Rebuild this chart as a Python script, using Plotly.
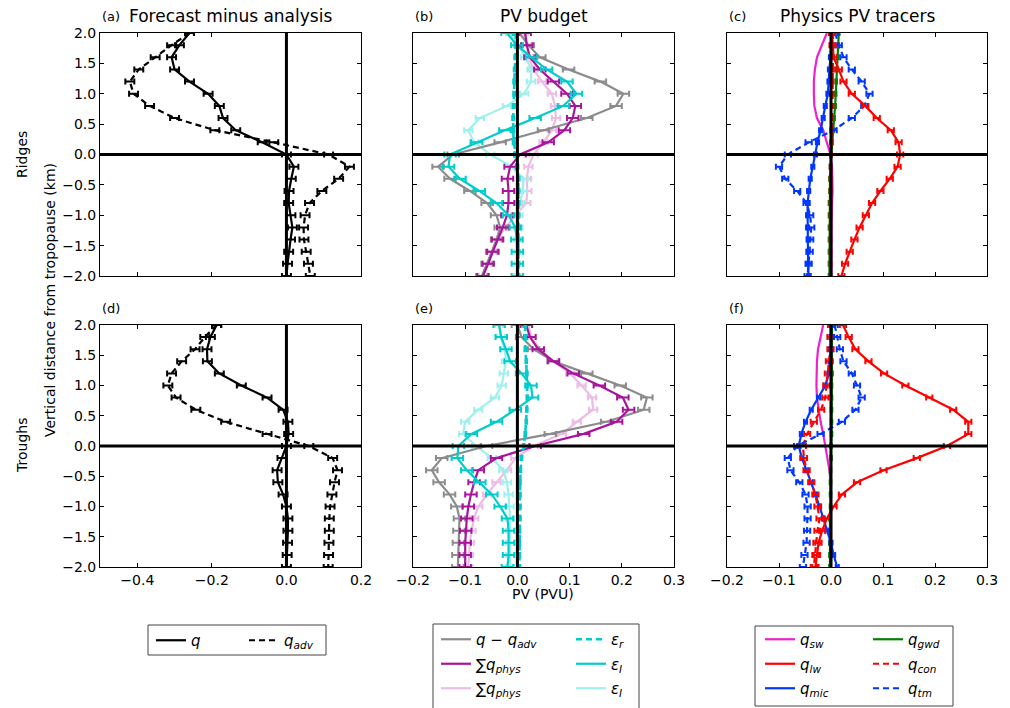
import plotly.graph_objects as go

# ---------------- data ----------------
Z = [2.0, 1.8, 1.6, 1.4, 1.2, 1.0, 0.8, 0.6, 0.4, 0.2, 0.0,
     -0.2, -0.4, -0.6, -0.8, -1.0, -1.2, -1.4, -1.6, -1.8, -2.0]

# (a) ridges, forecast minus analysis
A_Q = [-0.26, -0.287, -0.308, -0.30, -0.26, -0.21, -0.18, -0.17, -0.136, -0.065, 0.0,
       0.02, 0.013, 0.007, 0.006, 0.012, 0.016, 0.011, 0.006, 0.003, 0.0]
A_QADV = [-0.26, -0.308, -0.352, -0.396, -0.42, -0.41, -0.367, -0.30, -0.192, -0.034, 0.113,
          0.169, 0.14, 0.095, 0.062, 0.05, 0.046, 0.047, 0.053, 0.059, 0.064]
# (d) troughs, forecast minus analysis
D_Q = [-0.187, -0.204, -0.213, -0.212, -0.18, -0.121, -0.052, -0.009, 0.004, 0.006, 0.0,
       -0.012, -0.025, -0.023, -0.009, 0.0, 0.004, 0.004, 0.003, 0.002, 0.0]
D_QADV = [-0.187, -0.219, -0.245, -0.281, -0.308, -0.318, -0.296, -0.243, -0.163, -0.052, 0.06,
          0.124, 0.137, 0.129, 0.122, 0.117, 0.115, 0.115, 0.114, 0.113, 0.112]

# (b) ridges, PV budget
B_DIFF = [0.004, 0.021, 0.043, 0.098, 0.159, 0.203, 0.189, 0.133, 0.05, -0.033, -0.123,
          -0.152, -0.129, -0.091, -0.058, -0.04, -0.033, -0.04, -0.049, -0.058, -0.068]
B_PHYS = [0.015, 0.018, 0.024, 0.043, 0.069, 0.095, 0.111, 0.106, 0.09, 0.059, 0.005,
          -0.014, -0.019, -0.017, -0.017, -0.02, -0.028, -0.038, -0.047, -0.056, -0.066]
B_PHYS2 = [0.012, 0.018, 0.021, 0.031, 0.047, 0.066, 0.072, 0.074, 0.066, 0.05, 0.031,
           0.021, 0.018, 0.019, 0.017, -0.004, -0.022, -0.04, -0.049, -0.058, -0.066]
B_EPSR = [-0.003, -0.003, -0.004, -0.005, -0.006, -0.006, -0.007, -0.008, -0.008, -0.007, -0.003,
          0.0, 0.002, 0.002, 0.002, 0.002, 0.002, 0.002, 0.002, 0.002, 0.002]
B_EPSI = [-0.02, -0.001, 0.027, 0.056, 0.095, 0.113, 0.088, 0.034, -0.024, -0.078, -0.129,
          -0.132, -0.11, -0.073, -0.04, -0.017, -0.004, -0.001, 0.0, 0.0, 0.0]
B_EPSI2 = [-0.014, 0.002, 0.015, 0.027, 0.026, 0.013, -0.02, -0.072, -0.094, -0.083, -0.052,
           -0.011, 0.012, 0.01, 0.005, 0.002, 0.002, 0.002, 0.002, 0.002, 0.002]
# (e) troughs, PV budget
E_DIFF = [0.0, 0.008, 0.031, 0.069, 0.133, 0.197, 0.248, 0.242, 0.171, 0.063, -0.059,
          -0.145, -0.164, -0.15, -0.13, -0.116, -0.111, -0.112, -0.113, -0.114, -0.114]
E_PHYS = [0.017, 0.024, 0.04, 0.069, 0.107, 0.157, 0.202, 0.213, 0.19, 0.127, 0.034,
          -0.04, -0.075, -0.083, -0.089, -0.094, -0.097, -0.099, -0.1, -0.1, -0.1]
E_PHYS2 = [0.021, 0.027, 0.043, 0.069, 0.101, 0.123, 0.143, 0.145, 0.114, 0.085, 0.031,
           -0.004, -0.02, -0.04, -0.058, -0.075, -0.083, -0.088, -0.091, -0.093, -0.094]
E_EPSR = [0.015, 0.015, 0.015, 0.017, 0.018, 0.019, 0.019, 0.018, 0.017, 0.015, 0.012,
          0.008, 0.006, 0.005, 0.005, 0.005, 0.005, 0.004, 0.004, 0.004, 0.004]
E_EPSI = [-0.035, -0.031, -0.022, -0.014, 0.008, 0.026, 0.029, -0.004, -0.04, -0.088, -0.113,
          -0.115, -0.097, -0.072, -0.049, -0.033, -0.019, -0.017, -0.017, -0.017, -0.019]
E_EPSI2 = [-0.035, -0.032, -0.024, -0.022, -0.026, -0.03, -0.043, -0.075, -0.1, -0.104, -0.079,
           -0.049, -0.027, -0.02, -0.017, -0.015, -0.014, -0.014, -0.014, -0.014, -0.014]

# (c) ridges, physics PV tracers
C_SW = [-0.008, -0.017, -0.027, -0.031, -0.033, -0.033, -0.032, -0.027, -0.015, -0.008, -0.001,
        0.002, 0.003, 0.003, 0.002, 0.001, 0.001, 0.001, 0.001, 0.001, 0.001]
C_LW = [0.002, 0.003, 0.005, 0.015, 0.024, 0.04, 0.066, 0.088, 0.115, 0.13, 0.133,
        0.128, 0.113, 0.095, 0.079, 0.067, 0.055, 0.045, 0.036, 0.027, 0.02]
C_MIC = [0.002, 0.001, -0.001, -0.003, -0.004, -0.006, -0.011, -0.015, -0.02, -0.026, -0.03,
         -0.035, -0.04, -0.043, -0.045, -0.045, -0.045, -0.044, -0.044, -0.044, -0.043]
C_GWD = [0.015, 0.014, 0.013, 0.012, 0.01, 0.009, 0.008, 0.006, 0.004, 0.002, 0.0,
         -0.001, -0.002, -0.002, -0.003, -0.003, -0.003, -0.003, -0.003, -0.003, -0.003]
C_CON = [0.004, 0.004, 0.004, 0.004, 0.003, 0.003, 0.003, 0.002, 0.001, 0.0, 0.0,
         -0.001, -0.001, -0.001, -0.001, -0.001, -0.001, -0.001, -0.001, -0.001, -0.001]
C_TM = [0.008, 0.015, 0.024, 0.04, 0.059, 0.074, 0.064, 0.04, 0.005, -0.043, -0.083,
        -0.1, -0.088, -0.065, -0.047, -0.04, -0.038, -0.04, -0.041, -0.043, -0.045]
# (f) troughs, physics PV tracers
F_SW = [-0.015, -0.02, -0.025, -0.027, -0.028, -0.028, -0.027, -0.024, -0.02, -0.015, -0.011,
        -0.006, -0.003, -0.001, 0.0, 0.0, 0.0, 0.0, 0.0, 0.0, 0.0]
F_LW = [0.023, 0.034, 0.047, 0.072, 0.102, 0.143, 0.189, 0.235, 0.264, 0.264, 0.223,
        0.165, 0.101, 0.05, 0.021, 0.005, -0.008, -0.017, -0.024, -0.027, -0.03]
F_MIC = [0.0, 0.0, -0.001, -0.002, -0.004, -0.011, -0.024, -0.038, -0.049, -0.057, -0.062,
         -0.056, -0.047, -0.038, -0.03, -0.022, -0.015, -0.008, 0.0, 0.005, 0.012]
F_GWD = [0.002, 0.002, 0.002, 0.002, 0.002, 0.001, 0.001, 0.001, 0.001, 0.001, 0.0,
         0.0, -0.001, -0.001, -0.001, -0.001, -0.002, -0.002, -0.002, -0.002, -0.002]
F_CON = [0.0, -0.001, -0.001, -0.004, -0.006, -0.009, -0.011, -0.019, -0.033, -0.046, -0.054,
         -0.052, -0.047, -0.038, -0.03, -0.026, -0.022, -0.026, -0.028, -0.03, -0.033]
F_TM = [0.007, 0.012, 0.017, 0.024, 0.04, 0.05, 0.059, 0.047, 0.021, -0.02, -0.065,
        -0.083, -0.078, -0.061, -0.049, -0.045, -0.045, -0.046, -0.047, -0.051, -0.054]

# half-widths of the horizontal error bars (PVU)
ERR_FC = 0.012
ERR_BUD = 0.011
ERR_BUD_LIGHT = 0.008
ERR_EPSR_RIDGE = 0.002
ERR_EPSR_TROUGH = 0.0015
ERR_TR = 0.006
ERR_TR_SMALL = 0.003
ERR_NEAR_ZERO = 0.0015

PANEL_TITLES = ["Forecast minus analysis", "PV budget", "Physics PV tracers"]
PANEL_LABELS = ["(a)", "(b)", "(c)", "(d)", "(e)", "(f)"]
FC_TICKS = [-0.4, -0.2, 0.0, 0.2]
PV_TICKS = [-0.2, -0.1, 0.0, 0.1, 0.2, 0.3]
Z_TICKS = [-2.0, -1.5, -1.0, -0.5, 0.0, 0.5, 1.0, 1.5, 2.0]

# ---------------- styling ----------------
W, H = 1010, 708
FONT = "DejaVu Sans"
GRAY = "#8c8c8c"
PURPLE = "#a8149c"
PINK = "#ecbce4"
CYAN = "#00cccc"
LCYAN = "#9ef0ee"
MAGENTA = "#ee22cc"
RED = "#ff0000"
BLUE = "#0036ff"
GREEN = "#008000"
DASH = "6px,4px"


def fx(p):
    return p / W


def fy(p):
    return 1 - p / H


# panel pixel boxes (left, right, top, bottom)
COLS = [(100, 361), (413, 674), (727, 987)]
ROWS = [(33, 276), (325, 567)]

fig = go.Figure()

layout_axes = {}
idx = 0
for r, (top, bot) in enumerate(ROWS):
    for c, (left, right) in enumerate(COLS):
        idx += 1
        sfx = "" if idx == 1 else str(idx)
        common = dict(showline=True, linecolor="black", linewidth=1, mirror="ticks",
                      ticks="inside", ticklen=4, tickcolor="black", tickwidth=1,
                      showgrid=False, zeroline=False, tickformat=".1f",
                      tickfont=dict(family=FONT, size=14, color="black"),
                      automargin=False, fixedrange=True)
        xa = dict(common, domain=[fx(left), fx(right)], anchor="y" + sfx,
                  range=[-0.5, 0.2] if c == 0 else [-0.2, 0.3],
                  tickvals=FC_TICKS if c == 0 else PV_TICKS,
                  showticklabels=(r == 1))
        ya = dict(common, domain=[fy(bot), fy(top)], anchor="x" + sfx,
                  range=[-2.0, 2.0], tickvals=Z_TICKS,
                  showticklabels=(c == 0))
        layout_axes["xaxis" + sfx] = xa
        layout_axes["yaxis" + sfx] = ya


def add(panel, xs, name, color, dash, err, legend, show, width=2.2):
    sfx = "" if panel == 1 else str(panel)
    fig.add_trace(go.Scatter(
        x=xs, y=Z, mode="lines", name=name,
        line=dict(color=color, width=width, dash=dash),
        error_x=dict(type="constant", value=err, color=color, thickness=2, width=3,
                     visible=err > 0),
        xaxis="x" + sfx, yaxis="y" + sfx,
        legend=legend, legendgroup=name + legend, showlegend=show))


Q = "<i>q</i>"
QADV = "<i>q</i><sub><i>adv</i></sub>"
DIFF = "<i>q</i> − <i>q</i><sub><i>adv</i></sub>"
SUMP = "∑<i>q</i><sub><i>phys</i></sub>"
EPSR = "<i>ε</i><sub><i>r</i></sub>"
EPSI = "<i>ε</i><sub><i>I</i></sub>"


def qsub(s):
    return "<i>q</i><sub><i>%s</i></sub>" % s


for row, panel_a in ((0, 1), (1, 4)):
    show = row == 0
    q, qadv = (A_Q, A_QADV) if row == 0 else (D_Q, D_QADV)
    add(panel_a, qadv, QADV, "black", DASH, ERR_FC, "legend2", show)
    add(panel_a, q, Q, "black", "solid", ERR_FC, "legend", show)

for row, panel_b in ((0, 2), (1, 5)):
    show = row == 0
    if row == 0:
        diff, phys, phys2, epsr, epsi, epsi2 = B_DIFF, B_PHYS, B_PHYS2, B_EPSR, B_EPSI, B_EPSI2
        err_r = ERR_EPSR_RIDGE
    else:
        diff, phys, phys2, epsr, epsi, epsi2 = E_DIFF, E_PHYS, E_PHYS2, E_EPSR, E_EPSI, E_EPSI2
        err_r = ERR_EPSR_TROUGH
    add(panel_b, phys2, SUMP + " ", PINK, "solid", ERR_BUD_LIGHT, "legend3", show)
    add(panel_b, epsi2, EPSI + " ", LCYAN, "solid", ERR_BUD_LIGHT, "legend4", show)
    add(panel_b, diff, DIFF, GRAY, "solid", ERR_BUD, "legend3", show)
    add(panel_b, phys, SUMP, PURPLE, "solid", ERR_BUD, "legend3", show)
    add(panel_b, epsr, EPSR, CYAN, DASH, err_r, "legend4", show, width=2.6)
    add(panel_b, epsi, EPSI, CYAN, "solid", ERR_BUD, "legend4", show)

for row, panel_c in ((0, 3), (1, 6)):
    show = row == 0
    if row == 0:
        sw, lw, mic, gwd, con, tm = C_SW, C_LW, C_MIC, C_GWD, C_CON, C_TM
        err_con = ERR_NEAR_ZERO
    else:
        sw, lw, mic, gwd, con, tm = F_SW, F_LW, F_MIC, F_GWD, F_CON, F_TM
        err_con = ERR_TR
    add(panel_c, sw, qsub("sw"), MAGENTA, "solid", 0, "legend5", show)
    add(panel_c, gwd, qsub("gwd"), GREEN, "solid", ERR_NEAR_ZERO, "legend6", show)
    add(panel_c, mic, qsub("mic"), BLUE, "solid", ERR_TR_SMALL, "legend5", show)
    add(panel_c, con, qsub("con"), RED, DASH, err_con, "legend6", show)
    add(panel_c, tm, qsub("tm"), BLUE, DASH, ERR_TR, "legend6", show)
    add(panel_c, lw, qsub("lw"), RED, "solid", ERR_TR, "legend5", show)

# legend rank so each column is ordered as in the reference
rank = {DIFF: 1, SUMP: 2, SUMP + " ": 3, EPSR: 1, EPSI: 2, EPSI + " ": 3,
        qsub("sw"): 1, qsub("lw"): 2, qsub("mic"): 3,
        qsub("gwd"): 1, qsub("con"): 2, qsub("tm"): 3, Q: 1, QADV: 1}
for tr in fig.data:
    tr.legendrank = rank.get(tr.name, 5)

# zero lines
shapes = []
for i in range(1, 7):
    sfx = "" if i == 1 else str(i)
    shapes.append(dict(type="line", xref="x" + sfx, yref="y" + sfx + " domain",
                       x0=0, x1=0, y0=0, y1=1, line=dict(color="black", width=3),
                       layer="above"))
    shapes.append(dict(type="line", xref="x" + sfx + " domain", yref="y" + sfx,
                       x0=0, x1=1, y0=0, y1=0, line=dict(color="black", width=3),
                       layer="above"))

# legend frames
for (l, r, t, b) in [(148, 326, 625, 655), (433, 639, 624, 715), (755, 953, 626, 706)]:
    shapes.append(dict(type="rect", xref="paper", yref="paper",
                       x0=fx(l), x1=fx(r), y0=fy(b), y1=fy(t),
                       line=dict(color="#444444", width=1), fillcolor="rgba(0,0,0,0)",
                       layer="above"))

annotations = []
for c, (left, right) in enumerate(COLS):
    annotations.append(dict(text=PANEL_TITLES[c], xref="paper", yref="paper",
                            x=fx((left + right) / 2), y=fy(16), xanchor="center",
                            yanchor="middle", showarrow=False,
                            font=dict(family=FONT, size=17, color="black")))
    for r, (top, bot) in enumerate(ROWS):
        annotations.append(dict(text=PANEL_LABELS[r * 3 + c], xref="paper", yref="paper",
                                x=fx(left), y=fy(top - 17), xanchor="left",
                                yanchor="middle", showarrow=False,
                                font=dict(family=FONT, size=13, color="black")))

annotations += [
    dict(text="Ridges", xref="paper", yref="paper", x=fx(22), y=fy(155), textangle=-90,
         xanchor="center", yanchor="middle", showarrow=False,
         font=dict(family=FONT, size=14, color="black")),
    dict(text="Troughs", xref="paper", yref="paper", x=fx(22), y=fy(446), textangle=-90,
         xanchor="center", yanchor="middle", showarrow=False,
         font=dict(family=FONT, size=14, color="black")),
    dict(text="Vertical distance from tropopause (km)", xref="paper", yref="paper",
         x=fx(50), y=fy(300), textangle=-90, xanchor="center", yanchor="middle",
         showarrow=False, font=dict(family=FONT, size=14, color="black")),
    dict(text="PV (PVU)", xref="paper", yref="paper", x=fx(543), y=fy(594),
         xanchor="center", yanchor="middle", showarrow=False,
         font=dict(family=FONT, size=14, color="black")),
]

leg_common = dict(orientation="v", xanchor="left", yanchor="top", bgcolor="rgba(0,0,0,0)",
                  borderwidth=0, tracegroupgap=2, traceorder="grouped",
                  font=dict(family=FONT, size=15, color="black"), itemclick=False,
                  itemdoubleclick=False)
legends = dict(
    legend=dict(leg_common, x=fx(151), y=fy(624)),
    legend2=dict(leg_common, x=fx(244), y=fy(624)),
    legend3=dict(leg_common, x=fx(436), y=fy(623)),
    legend4=dict(leg_common, x=fx(571), y=fy(623)),
    legend5=dict(leg_common, x=fx(760), y=fy(623)),
    legend6=dict(leg_common, x=fx(868), y=fy(623)),
)

fig.update_layout(
    width=W, height=H, margin=dict(l=0, r=0, t=0, b=0, autoexpand=False),
    paper_bgcolor="white", plot_bgcolor="white",
    font=dict(family=FONT, color="black"),
    shapes=shapes, annotations=annotations,
    **layout_axes, **legends,
)

fig.write_html("out.html", config={"displayModeBar": False},
               post_script="document.body.style.margin='0px';"
                           "document.body.style.overflow='hidden';")
